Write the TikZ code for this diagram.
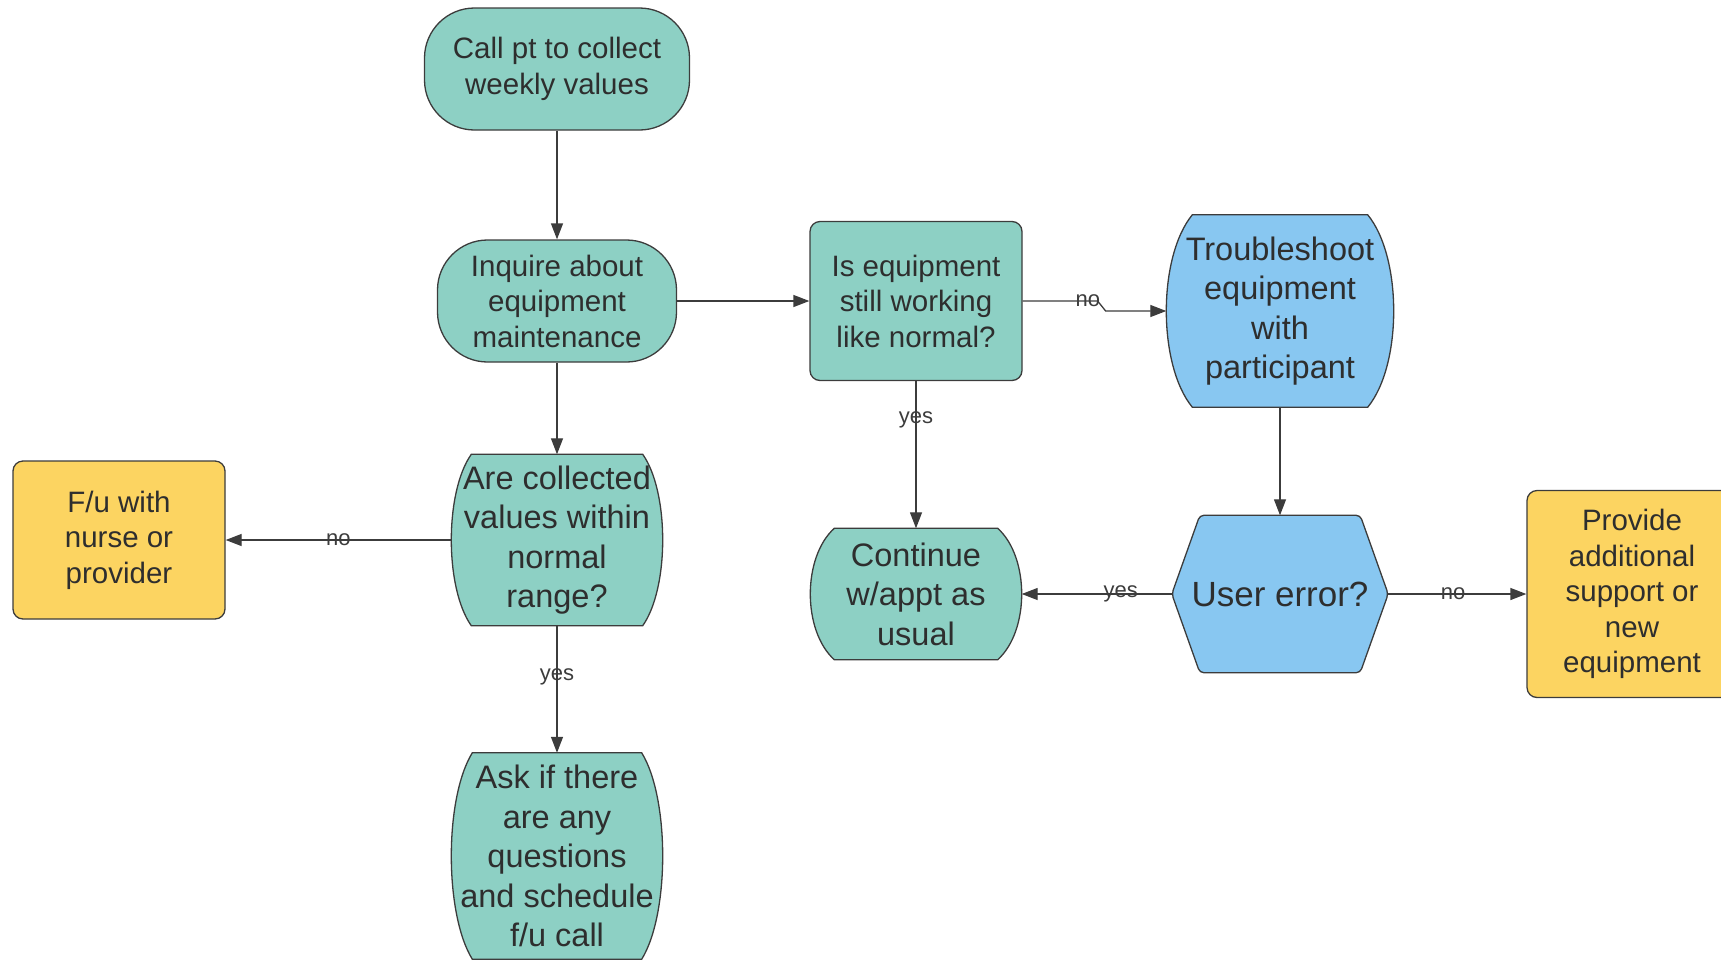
\documentclass[tikz,border=0pt]{standalone}
\usepackage{fontspec}
\setmainfont{Liberation Sans}
\usetikzlibrary{arrows.meta,calc,backgrounds}
\definecolor{tealbox}{HTML}{8DD0C4}
\definecolor{bluebox}{HTML}{88C7F1}
\definecolor{yellowbox}{HTML}{FCD461}
\definecolor{edgegray}{HTML}{3C3C3C}
\definecolor{textgray}{HTML}{2E2E2E}
\tikzset{
  box/.style={inner sep=0pt, align=center, text=textgray, font=\fontsize{29.5}{35.5}\selectfont},
  bigtext/.style={font=\fontsize{32.5}{39.5}\selectfont},
  shapeline/.style={draw=edgegray, line width=1.3pt},
  stadium/.style={box, shapeline, fill=tealbox, rounded corners=50pt},
  tealrect/.style={box, shapeline, fill=tealbox, rounded corners=10pt},
  yellowrect/.style={box, shapeline, fill=yellowbox, rounded corners=10pt},
  flow/.style={draw=edgegray, line width=1.3pt, -{Triangle[length=16pt,width=12pt]}},
  lbl/.style={font=\fontsize{22}{24}\selectfont, text=edgegray, inner sep=1pt},
}
\newcommand\barrelpath[2]{($(#1.north west)+(#2,0)$) -- ($(#1.north east)+(-#2,0)$)
  .. controls ($(#1.north east)!0.22!(#1.south east)+(#2/3,0)$) and ($(#1.south east)!0.22!(#1.north east)+(#2/3,0)$) .. ($(#1.south east)+(-#2,0)$)
  -- ($(#1.south west)+(#2,0)$)
  .. controls ($(#1.south west)!0.22!(#1.north west)+(-#2/3,0)$) and ($(#1.north west)!0.22!(#1.south west)+(-#2/3,0)$) .. cycle}
\begin{document}
\begin{tikzpicture}[x=1pt,y=-1pt]
\useasboundingbox (0,0) rectangle (1721,962);
\node[stadium, minimum width=265pt, minimum height=122pt] (call) at (557,69) {Call pt to collect\\weekly values};
\node[stadium, minimum width=239pt, minimum height=122pt] (inquire) at (557,301) {Inquire about\\equipment\\maintenance};
\node[box, bigtext, minimum width=211pt, minimum height=171pt] (values) at (557,540) {Are collected\\values within\\normal\\range?};
\node[yellowrect, minimum width=212pt, minimum height=158pt] (fu) at (119,540) {F/u with\\nurse or\\provider};
\node[box, bigtext, minimum width=211pt, minimum height=206pt] (ask) at (557,856) {Ask if there\\are any\\questions\\and schedule\\f/u call};
\node[tealrect, minimum width=212pt, minimum height=159pt] (working) at (916,301) {Is equipment\\still working\\like normal?};
\node[box, bigtext, minimum width=227pt, minimum height=192pt] (trouble) at (1280,311) {Troubleshoot\\equipment\\with\\participant};
\node[box, bigtext, minimum width=211pt, minimum height=131pt] (continue) at (916,594) {Continue\\w/appt as\\usual};
\node[box, font=\fontsize{35}{40}\selectfont, minimum width=216pt, minimum height=157pt] (usererr) at (1280,594) {User error?};
\node[yellowrect, minimum width=210pt, minimum height=207pt] (provide) at (1632,594) {Provide\\additional\\support or\\new\\equipment};
\begin{scope}[on background layer]
\draw[shapeline, fill=tealbox] \barrelpath{values}{20};
\draw[shapeline, fill=tealbox] \barrelpath{ask}{21};
\draw[shapeline, fill=tealbox] \barrelpath{continue}{24};
\draw[shapeline, fill=bluebox] \barrelpath{trouble}{26};
\draw[shapeline, fill=bluebox, rounded corners=4pt] (usererr.west) -- ($(usererr.north west)+(28,0)$) -- ($(usererr.north east)+(-28,0)$)
  -- (usererr.east) -- ($(usererr.south east)+(-28,0)$) -- ($(usererr.south west)+(28,0)$) -- cycle;
\end{scope}
\draw[flow] (call) -- (inquire);
\draw[flow] (inquire) -- (working);
\draw[flow] (inquire) -- (values);
\draw[flow] (values) -- node[lbl]{no} (fu);
\draw[flow] (values) -- node[lbl, pos=0.4]{yes} (ask);
\draw[flow] (working.east) -- ++(75,0) node[lbl, pos=0.87]{no} -- ++(8,10) -- (trouble.west);
\draw[flow] (working) -- node[lbl, pos=0.26]{yes} (continue);
\draw[flow] (trouble) -- (usererr);
\draw[flow] (usererr) -- node[lbl, pos=0.34]{yes} (continue);
\draw[flow] (usererr) -- node[lbl, pos=0.47]{no} (provide);
\end{tikzpicture}
\end{document}
